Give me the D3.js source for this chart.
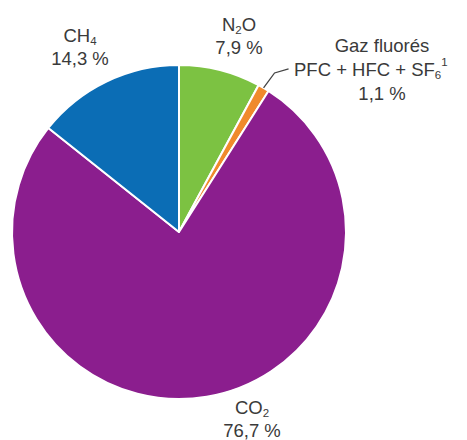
<!DOCTYPE html>
<html><head><meta charset="utf-8">
<script src="https://cdn.jsdelivr.net/npm/d3@7"></script>
<style>body{margin:0;background:#fff}svg{display:block}</style>
</head><body>
<script>
const categories = ["N2O", "Gaz fluorés", "CO2", "CH4"];
const values = [7.9, 1.1, 76.7, 14.3];
const valueLabels = ["7,9 %", "1,1 %", "76,7 %", "14,3 %"];
const colors = ["#7cc242", "#f08a2c", "#8b1e8e", "#0b6db5"];

const W = 467, H = 440, cx = 179, cy = 232, R = 167;
const FS = 18.5, SS = 11.5;
const svg = d3.select("body").append("svg").attr("width", W).attr("height", H);
const g = svg.append("g").attr("transform", `translate(${cx},${cy})`);
const pie = d3.pie().sort(null).value(d => d)(values);
const arc = d3.arc().innerRadius(0).outerRadius(R);
g.selectAll("path").data(pie).join("path")
  .attr("d", arc).attr("fill", (d, i) => colors[i])
  .attr("stroke", "#fff").attr("stroke-width", 2).attr("stroke-linejoin", "round");

// leader line for fluorinated gases
const fl = pie[1];
const mid = (fl.startAngle + fl.endAngle) / 2;
const p0 = [cx + R * Math.sin(mid), cy - R * Math.cos(mid)];
svg.append("path")
  .attr("d", d3.line()([p0, [p0[0] + 11, p0[1] - 15], [p0[0] + 25, p0[1] - 19]]))
  .attr("fill", "none").attr("stroke", "#444").attr("stroke-width", 1.3);

const font = "'Liberation Sans', Arial, sans-serif";
function txt(x, y, anchor) {
  return svg.append("text").attr("x", x).attr("y", y).attr("text-anchor", anchor || "middle")
    .attr("font-family", font).attr("font-size", FS).attr("fill", "#3a3a3a");
}
function label(x, y, parts, pct) {
  const t = txt(x, y);
  parts.forEach(p => {
    const s = t.append("tspan").text(p.t);
    if (p.sub) s.attr("font-size", SS).attr("dy", 3);
    if (p.back) s.attr("dy", p.back);
  });
  if (pct) txt(x, y + 23).text(pct);
}
label(80, 42, [{t: "CH"}, {t: "4", sub: true}], valueLabels[3]);
label(239, 31, [{t: "N"}, {t: "2", sub: true}, {t: "O", back: -3}], valueLabels[0]);
txt(382, 52).text(categories[1]);
const t2 = txt(294, 76, "start");
t2.append("tspan").text("PFC + HFC + SF");
t2.append("tspan").text("6").attr("font-size", SS).attr("dy", 3);
t2.append("tspan").text("1").attr("font-size", SS).attr("dy", -13);
txt(382, 100).text(valueLabels[1]);
label(252, 414, [{t: "CO"}, {t: "2", sub: true}], valueLabels[2]);
</script>
</body></html>
